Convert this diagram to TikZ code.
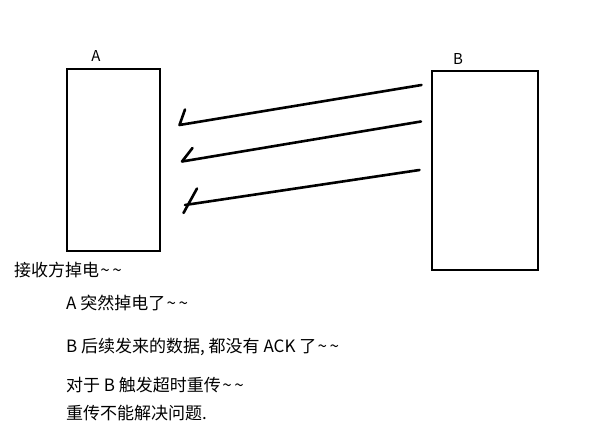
\documentclass[tikz,border=0pt]{standalone}
\usepackage{fontspec}
\setmainfont{Noto Sans CJK SC}
\newcommand{\tld}{\makebox[12pt]{\textasciitilde}}
\begin{document}
\begin{tikzpicture}[x=1pt,y=-1pt,
  boxst/.style={draw=black,line width=2pt,inner sep=0pt,anchor=north west},
  lbl/.style={inner sep=0pt,font=\fontsize{15}{17}\selectfont},
  txt/.style={inner sep=0pt,anchor=west,font=\fontsize{17}{20}\selectfont},
  stroke/.style={line width=2.6pt,line cap=round,line join=round}]
\useasboundingbox (0,0) rectangle (596,441);
\fill[white] (0,0) rectangle (596,441);
\node[boxst,minimum width=93pt,minimum height=182pt] (A) at (66,68) {};
\node[boxst,minimum width=106pt,minimum height=199pt] (B) at (431,70) {};
\node[lbl] (la) at (96,56) {A};
\node[lbl] (lb) at (458,59) {B};
% arrows
\coordinate (s1) at (421.5,85);
\coordinate (e1) at (179.5,125);
\coordinate (h1) at (185,109.5);
\coordinate (s2) at (421,121.5);
\coordinate (e2) at (182,161.5);
\coordinate (h2) at (192.5,148);
\coordinate (s3) at (419.5,170);
\coordinate (e3) at (185,205);
\coordinate (h3a) at (183.5,213);
\coordinate (h3b) at (197,188.5);
\draw[stroke] (s1) -- (e1) -- (h1);
\draw[stroke] (s2) -- (e2) -- (h2);
\draw[stroke] (s3) -- (e3);
\draw[stroke] (h3a) -- (h3b);
% texts
\node[txt] (t1) at (14,270) {接收方掉电\tld\tld};
\node[txt] (t2) at (66,302.5) {A 突然掉电了\tld\tld};
\node[txt] (t3) at (66,346.5) {B 后续发来的数据, 都没有 ACK 了\tld\tld};
\node[txt] (t4) at (66,385) {对于 B 触发超时重传\tld\tld};
\node[txt] (t5) at (66,413) {重传不能解决问题.};
\end{tikzpicture}
\end{document}
